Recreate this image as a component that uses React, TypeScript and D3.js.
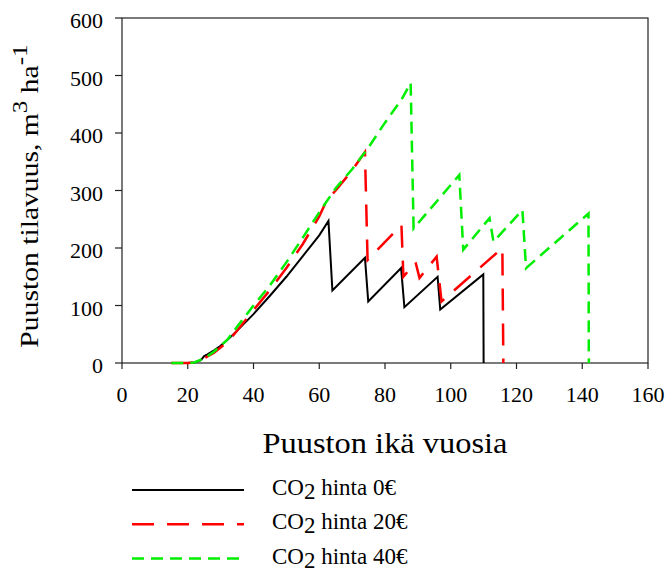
import * as d3 from "d3"

// CO2 hinta 0€
const ageBlack = [15, 20, 22, 24, 25, 26, 28, 30, 33, 36, 40, 45, 50, 55, 60, 62.8, 64, 73.9, 74.9, 84.9, 85.9, 96, 96.8, 109.9, 110]
const volBlack = [0, 0, 1, 5, 12, 15, 22, 30, 45, 62, 85, 117, 150, 186, 222, 247, 126, 183, 107, 165, 97, 150, 93, 154, 0]
// CO2 hinta 20€
const ageRed = [15, 20, 22, 25, 28, 32, 35, 40, 45, 50, 55, 60, 62.3, 65, 70, 73.9, 74.7, 85, 85.6, 89.3, 90.5, 95.7, 97.2, 115.7, 116]
const volRed = [0, 0, 1, 8, 18, 36, 56, 92, 127, 165, 207, 255, 283, 300, 335, 367, 179, 240, 150, 175, 148, 185, 107, 200, 0]
// CO2 hinta 40€
const ageGreen = [15, 20, 22, 25, 28, 32, 35, 40, 45, 50, 55, 60, 65, 70, 75, 80, 85, 87.8, 88.7, 102.6, 103.8, 111.8, 113, 121.8, 122.9, 141.9, 142]
const volGreen = [0, 0, 1, 8, 20, 40, 63, 100, 135, 175, 218, 262, 304, 337, 375, 418, 458, 487, 234, 327, 197, 252, 211, 266, 165, 260, 0]

const xTicks = [0, 20, 40, 60, 80, 100, 120, 140, 160]
const yTicks = [0, 100, 200, 300, 400, 500, 600]
const legendLabels = ["0€", "20€", "40€"]

const series = [
  { ages: ageBlack, vols: volBlack, color: "#000000", dash: "none", width: 2 },
  { ages: ageRed, vols: volRed, color: "#ff0000", dash: "22,13", width: 2.5 },
  { ages: ageGreen, vols: volGreen, color: "#00ee00", dash: "12,7", width: 2.5 },
]

const W = 667
const H = 569
const margin = { top: 18, right: 19, bottom: 206, left: 122 }
const font = "Liberation Serif, DejaVu Serif, serif"

export default function App() {
  const x = d3.scaleLinear().domain([0, 160]).range([margin.left, W - margin.right])
  const y = d3.scaleLinear().domain([0, 600]).range([H - margin.bottom, margin.top])

  const line = d3
    .line<[number, number]>()
    .x((d) => x(d[0]))
    .y((d) => y(d[1]))

  const x0 = x.range()[0]
  const x1 = x.range()[1]
  const y0 = y.range()[0]
  const y1 = y.range()[1]

  return (
    <svg
      width={W}
      height={H}
      style={{ position: "absolute", left: 0, top: 0, background: "#fff", fontFamily: font }}
    >
      {/* frame */}
      <rect x={x0} y={y1} width={x1 - x0} height={y0 - y1} fill="none" stroke="#222" strokeWidth={1.2} />

      {xTicks.map((t) => (
        <g key={"x" + t}>
          <line x1={x(t)} x2={x(t)} y1={y0} y2={y0 + 6} stroke="#222" strokeWidth={1.2} />
          <text x={x(t)} y={402} textAnchor="middle" fontSize={22} style={{ fontFamily: font }}>
            {t}
          </text>
        </g>
      ))}
      {yTicks.map((t) => (
        <g key={"y" + t}>
          <line x1={x0 - 7} x2={x0} y1={y(t)} y2={y(t)} stroke="#222" strokeWidth={1.2} />
          <text x={x0 - 19} y={y(t) + 10} textAnchor="end" fontSize={22} style={{ fontFamily: font }}>
            {t}
          </text>
        </g>
      ))}

      {series.map((s, i) => (
        <path
          key={i}
          d={line(s.ages.map((a, j) => [a, s.vols[j]] as [number, number])) ?? ""}
          fill="none"
          stroke={s.color}
          strokeWidth={s.width}
          strokeDasharray={s.dash}
          strokeLinejoin="miter"
        />
      ))}

      {/* axis titles */}
      <text
        x={(x0 + x1) / 2}
        y={453}
        textAnchor="middle"
        fontSize={30}
        textLength={245}
        lengthAdjust="spacingAndGlyphs"
        style={{ fontFamily: font }}
      >
        Puuston ikä vuosia
      </text>
      <text
        transform={`translate(38, 196) rotate(-90) scale(1.14, 1)`}
        textAnchor="middle"
        fontSize={26}
        style={{ fontFamily: font }}
      >
        Puuston tilavuus, m<tspan dy={-11} fontSize={22}>3</tspan>
        <tspan dy={11}> ha</tspan>
        <tspan dy={-11} fontSize={22}>-1</tspan>
      </text>

      {/* legend */}
      {series.map((s, i) => (
        <g key={"l" + i}>
          <line
            x1={132}
            x2={244}
            y1={490 + i * 34.3}
            y2={490 + i * 34.3}
            stroke={s.color}
            strokeWidth={s.width}
            strokeDasharray={s.dash}
          />
          <text x={272} y={495 + i * 34.3} fontSize={23} style={{ fontFamily: font }}>
            CO<tspan dy={4}>2</tspan>
            <tspan dy={-4}> hinta {legendLabels[i]}</tspan>
          </text>
        </g>
      ))}
    </svg>
  )
}
